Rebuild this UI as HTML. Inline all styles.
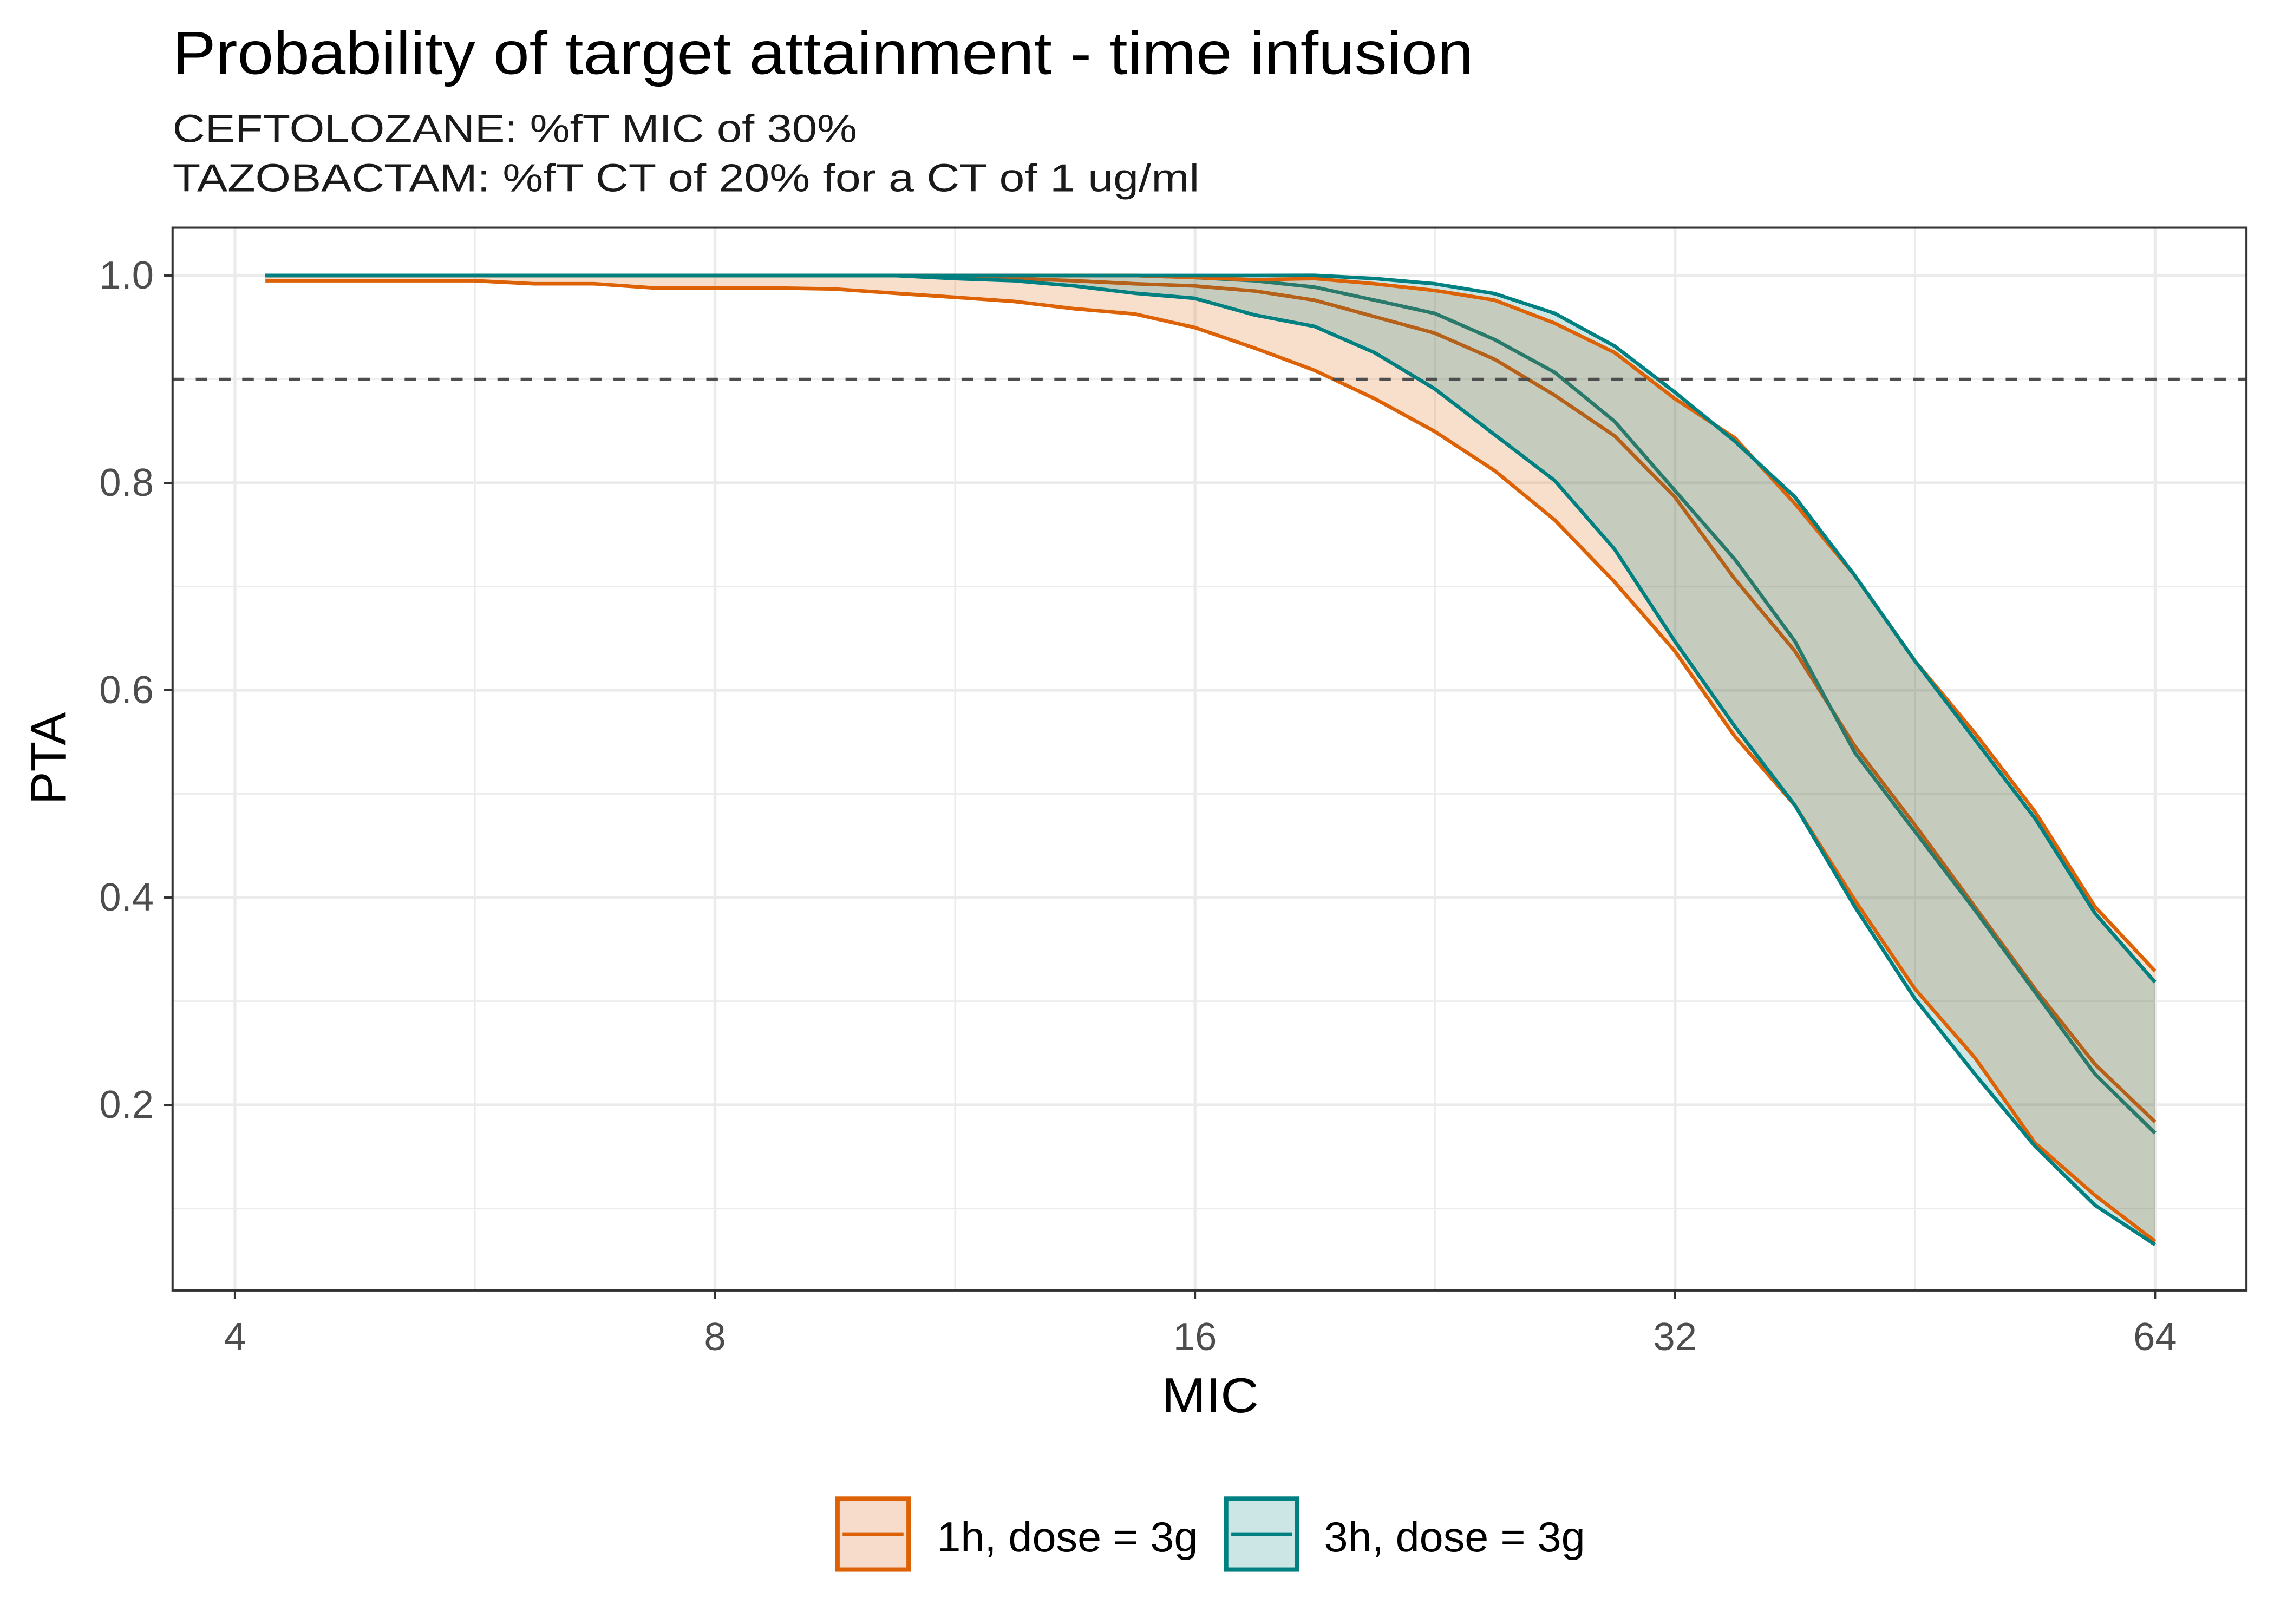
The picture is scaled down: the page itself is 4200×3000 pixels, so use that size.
<!DOCTYPE html>
<html><head><meta charset="utf-8"><style>
html,body{margin:0;padding:0;background:#fff;}
svg{display:block;font-family:"Liberation Sans",Arial,sans-serif;}
</style></head><body>
<svg id="s" width="4200" height="3000" viewBox="0 0 1568 1120" xmlns="http://www.w3.org/2000/svg">
<rect width="1568" height="1120" fill="#fff"/>
<g id="grid"></g>
<g id="plot"></g>
<line x1="119" y1="261.5" x2="1549" y2="261.5" stroke="#4d4d4d" stroke-width="2" stroke-dasharray="8,8"/>
<rect x="119" y="157" width="1430" height="733" fill="none" stroke="#333" stroke-width="1.5"/>
<g font-size="27" fill="#4d4d4d" text-anchor="end">
<text x="106" y="199">1.0</text><text x="106" y="342">0.8</text><text x="106" y="485">0.6</text><text x="106" y="628">0.4</text><text x="106" y="771">0.2</text>
</g>
<g font-size="27" fill="#4d4d4d" text-anchor="middle">
<text x="162" y="931">4</text><text x="493" y="931">8</text><text x="824" y="931">16</text><text x="1155" y="931">32</text><text x="1486" y="931">64</text>
</g>
<g stroke="#333" stroke-width="1.5">
<line x1="113" y1="190" x2="119" y2="190"/><line x1="113" y1="333" x2="119" y2="333"/><line x1="113" y1="476" x2="119" y2="476"/><line x1="113" y1="619" x2="119" y2="619"/><line x1="113" y1="762" x2="119" y2="762"/>
<line x1="162" y1="890" x2="162" y2="896"/><line x1="493" y1="890" x2="493" y2="896"/><line x1="824" y1="890" x2="824" y2="896"/><line x1="1155" y1="890" x2="1155" y2="896"/><line x1="1486" y1="890" x2="1486" y2="896"/>
</g>
<text x="801" y="974" font-size="34" textLength="67" lengthAdjust="spacingAndGlyphs" fill="#000">MIC</text>
<text x="0" y="0" font-size="34" text-anchor="middle" fill="#000" transform="translate(45,523) rotate(-90)">PTA</text>
<text x="119" y="51" font-size="42" textLength="897" lengthAdjust="spacingAndGlyphs" fill="#000">Probability of target attainment - time infusion</text>
<text x="119" y="98" font-size="27" textLength="472" lengthAdjust="spacingAndGlyphs" fill="#1a1a1a">CEFTOLOZANE: %fT MIC of 30%</text>
<text x="119" y="132" font-size="27" textLength="708" lengthAdjust="spacingAndGlyphs" fill="#1a1a1a">TAZOBACTAM: %fT CT of 20% for a CT of 1 ug/ml</text>
<rect x="577.5" y="1033.5" width="49" height="49" fill="#f8dccb" stroke="#dd6105" stroke-width="3"/>
<line x1="581" y1="1058" x2="623" y2="1058" stroke="#dd6105" stroke-width="2.5"/>
<text x="646" y="1070" font-size="29" textLength="180" lengthAdjust="spacingAndGlyphs" fill="#000">1h, dose = 3g</text>
<rect x="845.5" y="1033.5" width="49" height="49" fill="#cce6e6" stroke="#008080" stroke-width="3"/>
<line x1="849" y1="1058" x2="891" y2="1058" stroke="#008080" stroke-width="2.5"/>
<text x="913" y="1070" font-size="29" textLength="180" lengthAdjust="spacingAndGlyphs" fill="#000">3h, dose = 3g</text>
</svg>
<script>
(function(){
var NS="http://www.w3.org/2000/svg";
function el(p,n,a){var e=document.createElementNS(NS,n);for(var k in a)e.setAttribute(k,a[k]);p.appendChild(e);return e;}
var g=document.getElementById('grid');
function py(v){return 190+(1-v)*715;}
[0.1,0.3,0.5,0.7,0.9].forEach(function(v){el(g,'line',{x1:119,x2:1549,y1:py(v),y2:py(v),stroke:'#ebebeb','stroke-width':1});});
[327.5,658.5,989.5,1320.5].forEach(function(x){el(g,'line',{x1:x,x2:x,y1:157,y2:890,stroke:'#ebebeb','stroke-width':1});});
[0.2,0.4,0.6,0.8,1.0].forEach(function(v){el(g,'line',{x1:119,x2:1549,y1:py(v),y2:py(v),stroke:'#ebebeb','stroke-width':2});});
[162,493,824,1155,1486].forEach(function(x){el(g,'line',{x1:x,x2:x,y1:157,y2:890,stroke:'#ebebeb','stroke-width':2});});
function zy(Y){return 168.6+0.4523*Y;}
function fill(arr,n){while(arr.length<n)arr.push(1);return arr;}
function build(zoomY,left){
  var ys=zoomY.map(zy);
  left=fill(left,17);
  left.forEach(function(v){ys.push(py(v));});
  ys.push(ys[ys.length-1]);
  var pts=[];
  for(var k=0;k<ys.length;k++){var x=(k<32)?1486-41.4*k:183;pts.push([x,ys[k]]);}
  return pts;
}
var OU=build([1108,1010,865,745,635,505,395,295,235,165,120,85,70,60,52],[.996,.998]);
var TU=build([1125,1020,875,755,635,505,385,300,225,155,105,75,60,52,47],[]);
var OM=build([1338,1250,1135,1010,885,765,620,510,385,292,230,175,135,110,85],[.985,.99,.992,.995,.997]);
var TM=build([1355,1265,1140,1015,895,775,605,480,375,270,195,145,105,85,65],[.995,.998]);
var OL=build([1520,1450,1370,1240,1135,1000,855,750,620,515,420,345,285,235,192],[.93,.95,.963,.968,.975,.979,.983,.987,.988,.988,.988,.992,.992,.995,.995,.995,.995]);
var TL=build([1525,1465,1375,1265,1150,1010,855,735,605,465,360,290,220,165,125],[.962,.978,.983,.99,.995,.997]);
function pstr(p){return p.map(function(q){return q[0].toFixed(1)+','+q[1].toFixed(1);}).join(' ');}
var P=document.getElementById('plot');
el(P,'polygon',{points:pstr(OU.concat(OL.slice().reverse())),fill:'#d95f02','fill-opacity':0.2});
el(P,'polygon',{points:pstr(TU.concat(TL.slice().reverse())),fill:'#008080','fill-opacity':0.2});
function line(p,c){el(P,'polyline',{points:pstr(p),fill:'none',stroke:c,'stroke-width':2.5,'stroke-linejoin':'round'});}
line(OM,'#b5611a');line(TM,'#2a7a6c');
line(OU,'#dd6105');line(OL,'#dd6105');
line(TU,'#008080');line(TL,'#008080');
})();
</script>
</body></html>
